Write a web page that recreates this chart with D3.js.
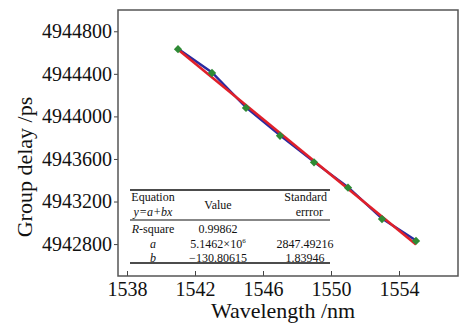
<!DOCTYPE html>
<html>
<head>
<meta charset="utf-8">
<script src="https://cdn.jsdelivr.net/npm/d3@7"></script>
<style>
  body { margin: 0; background: #fff; }
  svg text { font-family: "Liberation Serif", "Times New Roman", serif; fill: #111; }
</style>
</head>
<body>
<div id="chart"></div>
<script>
// measured points
const wavelength = [1541, 1543, 1545, 1547, 1549, 1551, 1553, 1555];
const delay = [4944632, 4944408, 4944080, 4943818, 4943568, 4943330, 4943035, 4942830];

const xTicks = [1538, 1542, 1546, 1550, 1554];
const yTicks = [4942800, 4943200, 4943600, 4944000, 4944400, 4944800];

// fit table
const tableHeader = ["Equation", "Value", "Standard"];
const tableRows = [
    ["R-square", "0.99862", ""],
    ["a", "5.1462\u00d710", "2847.49216"],
    ["b", "\u2212130.80615", "1.83946"]
];

const width = 464, height = 324;
const plotL = 118, plotR = 458, plotT = 10, plotB = 276;

const svg = d3.select("#chart").append("svg")
    .attr("width", width)
    .attr("height", height);

const x = d3.scaleLinear().domain([1537.47, 1557.47]).range([plotL, plotR]);
const y = d3.scaleLinear().domain([4942500, 4945000]).range([plotB, plotT]);

const serif = "'Liberation Serif', 'Times New Roman', serif";

// y axis ticks + labels
svg.append("g")
    .attr("transform", `translate(${plotL},0)`)
    .call(d3.axisLeft(y).tickValues(yTicks).tickSize(4).tickPadding(2).tickFormat(d3.format("d")))
    .call(g => g.select(".domain").remove())
    .call(g => g.selectAll("line").attr("stroke", "#444"))
    .call(g => g.selectAll("text").style("font-size", "20px").attr("fill", "#111")
        .style("font-family", serif));

// x axis ticks (inside) + labels
svg.append("g")
    .attr("transform", `translate(0,${plotB})`)
    .call(d3.axisBottom(x).tickValues(xTicks).tickSize(-5).tickPadding(6).tickFormat(d3.format("d")))
    .call(g => g.select(".domain").remove())
    .call(g => g.selectAll("line").attr("stroke", "#444"))
    .call(g => g.selectAll("text").style("font-size", "20px").attr("fill", "#111")
        .style("font-family", serif));

// frame
svg.append("rect")
    .attr("x", plotL).attr("y", plotT)
    .attr("width", plotR - plotL).attr("height", plotB - plotT)
    .attr("fill", "none").attr("stroke", "#555").attr("stroke-width", 1.5);

// axis titles
svg.append("text")
    .attr("x", 283).attr("y", 318)
    .attr("text-anchor", "middle")
    .style("font-size", "22px")
    .text("Wavelength /nm");

svg.append("text")
    .attr("transform", "translate(32,167) rotate(-90)")
    .attr("text-anchor", "middle")
    .style("font-size", "22px")
    .text("Group delay /ps");

// data line
const pts = wavelength.map((w, i) => ({ w: w, d: delay[i] }));
svg.append("path")
    .datum(pts)
    .attr("fill", "none")
    .attr("stroke", "#2a2aa0")
    .attr("stroke-width", 2.4)
    .attr("d", d3.line().x(d => x(d.w)).y(d => y(d.d) - 0.5));

// least squares fit
const mx = d3.mean(wavelength), my = d3.mean(delay);
const slope = d3.sum(pts, p => (p.w - mx) * (p.d - my)) / d3.sum(pts, p => (p.w - mx) ** 2);
const icpt = my - slope * mx;
const ends = [wavelength[0], wavelength[wavelength.length - 1]];
svg.append("path")
    .datum(ends)
    .attr("fill", "none")
    .attr("stroke", "#e0202a")
    .attr("stroke-width", 2.6)
    .attr("d", d3.line().x(w => x(w)).y(w => y(icpt + slope * w)));

// markers
svg.selectAll(".pt")
    .data(pts)
    .join("path")
    .attr("class", "pt")
    .attr("transform", d => `translate(${x(d.w)},${y(d.d)})`)
    .attr("d", d3.symbol(d3.symbolDiamond2, 44))
    .attr("fill", "#2f8a35");

// fit table
const tbl = svg.append("g").style("font-size", "12px");
const tx0 = 130, tx1 = 330;
[190, 220, 263].forEach((ly, i) => {
    tbl.append("line").attr("x1", tx0).attr("x2", tx1)
        .attr("y1", ly).attr("y2", ly)
        .attr("stroke", "#111").attr("stroke-width", i === 1 ? 1.2 : 1.4);
});
const colX = [153, 218, 305];
tbl.append("text").attr("x", colX[0]).attr("y", 201).attr("text-anchor", "middle").text(tableHeader[0]);
tbl.append("text").attr("x", colX[0]).attr("y", 216).attr("text-anchor", "middle")
    .style("font-style", "italic").text("y=a+bx");
tbl.append("text").attr("x", colX[1]).attr("y", 209).attr("text-anchor", "middle").text(tableHeader[1]);
tbl.append("text").attr("x", 327).attr("y", 201).attr("text-anchor", "end").text(tableHeader[2]);
tbl.append("text").attr("x", 323).attr("y", 216).attr("text-anchor", "end").text("errror");

const rowY = [233, 248, 262];
tableRows.forEach((r, i) => {
    const t0 = tbl.append("text").attr("x", colX[0]).attr("y", rowY[i]).attr("text-anchor", "middle");
    if (i === 0) {
        t0.append("tspan").style("font-style", "italic").text("R");
        t0.append("tspan").text("-square");
    } else {
        t0.style("font-style", "italic").text(r[0]);
    }
    const t1 = tbl.append("text").attr("x", colX[1]).attr("y", rowY[i]).attr("text-anchor", "middle").text(r[1]);
    if (i === 1) t1.append("tspan").attr("dy", -5).style("font-size", "7px").text("6");
    tbl.append("text").attr("x", colX[2]).attr("y", rowY[i]).attr("text-anchor", "middle").text(r[2]);
});
</script>
</body>
</html>
